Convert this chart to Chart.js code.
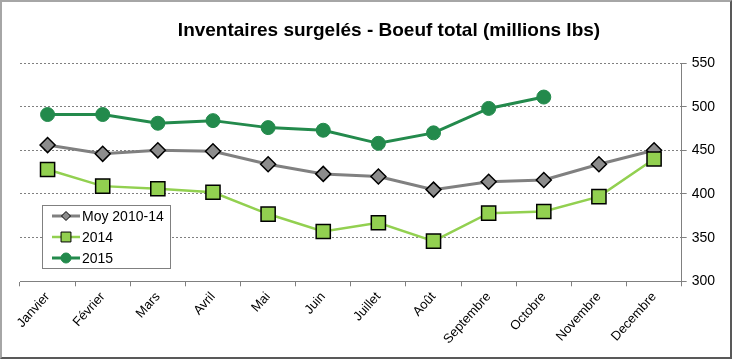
<!DOCTYPE html>
<html lang="fr">
<head>
  <meta charset="UTF-8">
  <title>Inventaires surgelés - Boeuf total</title>
  <script src="https://cdn.jsdelivr.net/npm/chart.js"></script>
  <style>
    body { margin: 0; padding: 0; background: #ffffff; }
    #wrap {
      width: 732px;
      height: 359px;
      box-sizing: border-box;
      border: 2px solid #a6a6a6;
      border-right-color: #595959;
      border-bottom-color: #595959;
      background: #ffffff;
    }
  </style>
</head>
<body>
<div id="wrap">
  <canvas id="chart" width="728" height="355"></canvas>
</div>

<script>
  // --- data ---
  const months = ['Janvier', 'Février', 'Mars', 'Avril', 'Mai', 'Juin', 'Juillet', 'Août',
                  'Septembre', 'Octobre', 'Novembre', 'Decembre'];
  const moy = [456, 446, 450, 449, 434, 423, 420, 405, 414, 416, 434, 450];
  const y2014 = [428, 409, 406, 402, 377, 357, 367, 346, 378, 380, 397, 440];
  const y2015 = [491, 491, 481, 484, 476, 473, 458, 470, 498, 511, null, null];
  const yTicks = [300, 350, 400, 450, 500, 550];
  const titleText = 'Inventaires surgelés - Boeuf total (millions lbs)';

  const FONT = "'Liberation Sans', Arial, sans-serif";

  // title drawn by hand so it can sit a bit right of centre like the original
  const titlePlugin = {
    id: 'titlePlugin',
    afterDraw(chart) {
      const ctx = chart.ctx;
      ctx.save();
      ctx.font = 'bold 19px ' + FONT;
      ctx.fillStyle = '#000';
      ctx.textAlign = 'center';
      ctx.textBaseline = 'middle';
      ctx.fillText(titleText, 387, 29);
      ctx.restore();
    }
  };

  // boxed legend in the lower-left corner of the plot
  const legendBox = {
    id: 'legendBox',
    afterDraw(chart) {
      const ctx = chart.ctx;
      const x = 40, y = 203, w = 128, h = 63;
      ctx.save();
      ctx.fillStyle = '#fff';
      ctx.fillRect(x, y, w, h);
      ctx.strokeStyle = '#808080';
      ctx.lineWidth = 1;
      ctx.strokeRect(x + 0.5, y + 0.5, w, h);

      const rows = [
        { ds: chart.data.datasets[2], r: 4.5 },
        { ds: chart.data.datasets[1], r: 7 },
        { ds: chart.data.datasets[0], r: 5 }
      ];
      rows.forEach((row, i) => {
        const cy = y + 11 + i * 21;
        const ds = row.ds;
        ctx.strokeStyle = ds.borderColor;
        ctx.lineWidth = ds.borderWidth;
        ctx.beginPath();
        ctx.moveTo(50, cy);
        ctx.lineTo(78, cy);
        ctx.stroke();
        ctx.fillStyle = ds.pointBackgroundColor;
        ctx.strokeStyle = ds.pointBorderColor;
        ctx.lineWidth = 1;
        Chart.helpers.drawPoint(ctx, { pointStyle: ds.pointStyle, radius: row.r, rotation: 0, borderWidth: 1 }, 64, cy);
        ctx.fillStyle = '#000';
        ctx.font = '14px ' + FONT;
        ctx.textBaseline = 'middle';
        ctx.fillText(ds.label, 80, cy + 1);
      });
      ctx.restore();
    }
  };

  new Chart(document.getElementById('chart'), {
    type: 'line',
    data: {
      labels: months,
      datasets: [
        {
          label: '2015',
          data: y2015,
          borderColor: '#238A4C',
          borderWidth: 3,
          pointStyle: 'circle',
          pointRadius: 7,
          pointBackgroundColor: '#238A4C',
          pointBorderColor: '#238A4C',
          pointBorderWidth: 1,
          tension: 0
        },
        {
          label: '2014',
          data: y2014,
          borderColor: '#92D050',
          borderWidth: 2.5,
          pointStyle: 'rect',
          pointRadius: 10,
          pointBackgroundColor: '#92D050',
          pointBorderColor: '#000',
          pointBorderWidth: 1.5,
          tension: 0
        },
        {
          label: 'Moy 2010-14',
          data: moy,
          borderColor: '#808080',
          borderWidth: 3,
          pointStyle: 'rectRot',
          pointRadius: 7.5,
          pointBackgroundColor: '#8c8c8c',
          pointBorderColor: '#000',
          pointBorderWidth: 1.5,
          tension: 0
        }
      ]
    },
    options: {
      responsive: false,
      animation: false,
      layout: { padding: { left: 18, right: 10, top: 61, bottom: 7 } },
      plugins: {
        legend: { display: false },
        title: { display: false },
        tooltip: { enabled: false }
      },
      scales: {
        x: {
          offset: true,
          grid: {
            offset: true,
            drawOnChartArea: false,
            drawTicks: true,
            tickLength: 5,
            color: '#808080'
          },
          border: { color: '#808080', width: 1 },
          ticks: {
            minRotation: 48,
            maxRotation: 48,
            padding: 3,
            color: '#000',
            font: { family: FONT, size: 13 }
          }
        },
        y: {
          position: 'right',
          min: 300,
          max: 550,
          afterBuildTicks(scale) {
            scale.ticks = yTicks.map(v => ({ value: v }));
          },
          grid: {
            color: '#808080',
            lineWidth: 1,
            tickLength: 5,
            tickColor: '#808080'
          },
          border: { color: '#808080', width: 1, dash: [2, 2] },
          ticks: {
            padding: 5,
            color: '#000',
            font: { family: FONT, size: 14 }
          }
        }
      }
    },
    plugins: [titlePlugin, legendBox]
  });
</script>
</body>
</html>
